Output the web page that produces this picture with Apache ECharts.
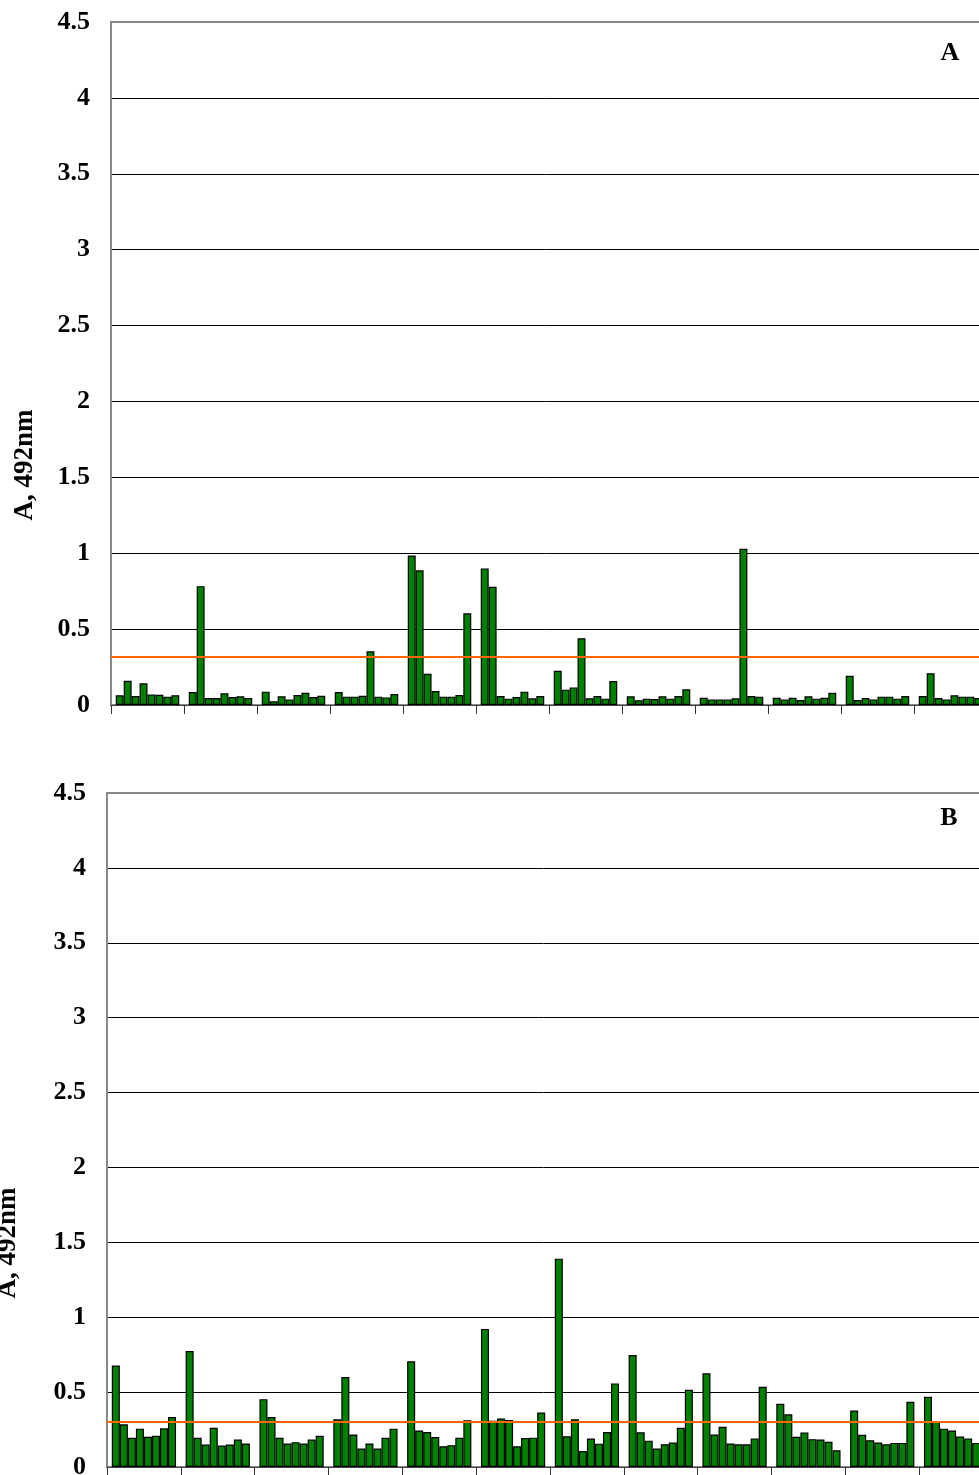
<!DOCTYPE html>
<html>
<head>
<meta charset="utf-8">
<script src="https://cdn.jsdelivr.net/npm/echarts@6/dist/echarts.min.js"></script>
<style>
  html, body { margin: 0; padding: 0; background: #fff; overflow: hidden; }
  #chart { width: 979px; height: 1475px; }
</style>
</head>
<body>
<div id="chart"></div>
<script>
// Sample groups (12 groups of 8 wells each)
const groupNames = ['1', '2', '3', '4', '5', '6', '7', '8', '9', '10', '11', '12'];

// Panel A absorbance values, one row per group
const valuesA = [
  [0.064, 0.160, 0.059, 0.143, 0.070, 0.068, 0.055, 0.064],
  [0.086, 0.783, 0.046, 0.046, 0.077, 0.053, 0.057, 0.046],
  [0.088, 0.024, 0.057, 0.037, 0.066, 0.081, 0.053, 0.061],
  [0.086, 0.055, 0.055, 0.061, 0.354, 0.055, 0.050, 0.072],
  [0.985, 0.887, 0.206, 0.092, 0.055, 0.055, 0.066, 0.604],
  [0.900, 0.779, 0.059, 0.042, 0.053, 0.088, 0.044, 0.059],
  [0.226, 0.101, 0.116, 0.440, 0.044, 0.059, 0.042, 0.158],
  [0.057, 0.031, 0.042, 0.040, 0.057, 0.042, 0.059, 0.103],
  [0.048, 0.037, 0.037, 0.037, 0.044, 1.029, 0.059, 0.055],
  [0.048, 0.037, 0.048, 0.033, 0.057, 0.042, 0.048, 0.081],
  [0.193, 0.033, 0.046, 0.037, 0.055, 0.055, 0.042, 0.059],
  [0.059, 0.209, 0.046, 0.037, 0.064, 0.055, 0.055, 0.046]
];

// Panel B absorbance values, one row per group
const valuesB = [
  [0.677, 0.285, 0.195, 0.256, 0.202, 0.209, 0.258, 0.334],
  [0.774, 0.195, 0.150, 0.262, 0.143, 0.150, 0.184, 0.157],
  [0.453, 0.334, 0.195, 0.157, 0.166, 0.157, 0.184, 0.209],
  [0.318, 0.601, 0.217, 0.123, 0.157, 0.123, 0.195, 0.256],
  [0.706, 0.244, 0.233, 0.200, 0.139, 0.146, 0.195, 0.312],
  [0.922, 0.308, 0.324, 0.313, 0.138, 0.194, 0.196, 0.364],
  [1.391, 0.205, 0.319, 0.107, 0.190, 0.156, 0.234, 0.558],
  [0.748, 0.232, 0.176, 0.123, 0.152, 0.163, 0.262, 0.516],
  [0.626, 0.217, 0.269, 0.157, 0.152, 0.152, 0.191, 0.536],
  [0.422, 0.352, 0.202, 0.231, 0.186, 0.184, 0.168, 0.112],
  [0.377, 0.215, 0.179, 0.164, 0.152, 0.161, 0.161, 0.435],
  [0.469, 0.307, 0.256, 0.244, 0.204, 0.191, 0.161, 0.251]
];

// Cut-off levels (orange lines)
const cutoffA = 0.32;
const cutoffB = 0.296;

// Value axis range
const yMin = 0;
const yMax = 4.5;
const yStep = 0.5;

const panelLabels = ['A', 'B'];
const axisTitle = 'A, 492nm';

const serif = "'Liberation Serif', 'Times New Roman', 'DejaVu Serif', serif";
const barGreen = '#008000';
const cutoffColor = '#ff6600';

function makeXAxis(gridIndex) {
  return {
    type: 'category',
    gridIndex: gridIndex,
    data: groupNames,
    boundaryGap: true,
    axisLine: { show: true, lineStyle: { color: '#444', width: 1 } },
    axisTick: { show: true, length: 9, lineStyle: { color: '#333', width: 1 } },
    axisLabel: { show: false },
    splitLine: { show: false }
  };
}

function makeYAxis(gridIndex) {
  return {
    type: 'value',
    gridIndex: gridIndex,
    min: yMin,
    max: yMax,
    interval: yStep,
    axisLine: { show: true, lineStyle: { color: '#888', width: 2 } },
    axisTick: { show: false },
    axisLabel: {
      margin: 21,
      color: '#000',
      fontFamily: serif,
      fontWeight: 'bold',
      fontSize: 26,
      padding: [4, 0, 0, 0]
    },
    splitLine: {
      show: true,
      showMinLine: false,
      showMaxLine: false,
      lineStyle: { color: '#000', width: 1 }
    }
  };
}

function makeSeries(rows, gridIndex, cutoff) {
  const out = [];
  for (let j = 0; j < 8; j++) {
    const s = {
      type: 'bar',
      xAxisIndex: gridIndex,
      yAxisIndex: gridIndex,
      data: rows.map(r => r[j]),
      barGap: '0%',
      barCategoryGap: '13%',
      itemStyle: { color: barGreen, borderColor: '#000', borderWidth: 1.2 },
      emphasis: { disabled: true },
      animation: false
    };
    if (j === 7) {
      s.markLine = {
        silent: true,
        symbol: 'none',
        label: { show: false },
        animation: false,
        data: [
          { yAxis: cutoff, lineStyle: { color: cutoffColor, width: 2, type: 'solid' } }
        ]
      };
    }
    out.push(s);
  }
  return out;
}

const chart = echarts.init(document.getElementById('chart'), null, { renderer: 'canvas' });

// The plot areas run slightly past the right edge of the page
const gridBase = {
  show: true,
  borderColor: '#888',
  borderWidth: 2,
  backgroundColor: 'transparent',
  containLabel: false,
  outerBoundsMode: 'none'
};

chart.setOption({
  backgroundColor: '#fff',
  animation: false,
  grid: [
    Object.assign({ left: 111, top: 22, width: 876, height: 683 }, gridBase),
    Object.assign({ left: 107, top: 793, width: 886, height: 674 }, gridBase)
  ],
  xAxis: [makeXAxis(0), makeXAxis(1)],
  yAxis: [makeYAxis(0), makeYAxis(1)],
  series: makeSeries(valuesA, 0, cutoffA).concat(makeSeries(valuesB, 1, cutoffB)),
  graphic: [
    {
      type: 'text', x: 25, y: 465, rotation: Math.PI / 2,
      style: { text: axisTitle, fill: '#000', font: 'bold 27px ' + serif, textAlign: 'center', textVerticalAlign: 'middle' }
    },
    {
      type: 'text', x: 8, y: 1243, rotation: Math.PI / 2,
      style: { text: axisTitle, fill: '#000', font: 'bold 27px ' + serif, textAlign: 'center', textVerticalAlign: 'middle' }
    },
    {
      type: 'text', x: 950, y: 53,
      style: { text: panelLabels[0], fill: '#000', font: 'bold 26px ' + serif, textAlign: 'center', textVerticalAlign: 'middle' }
    },
    {
      type: 'text', x: 949, y: 818,
      style: { text: panelLabels[1], fill: '#000', font: 'bold 26px ' + serif, textAlign: 'center', textVerticalAlign: 'middle' }
    }
  ]
});
</script>
</body>
</html>
